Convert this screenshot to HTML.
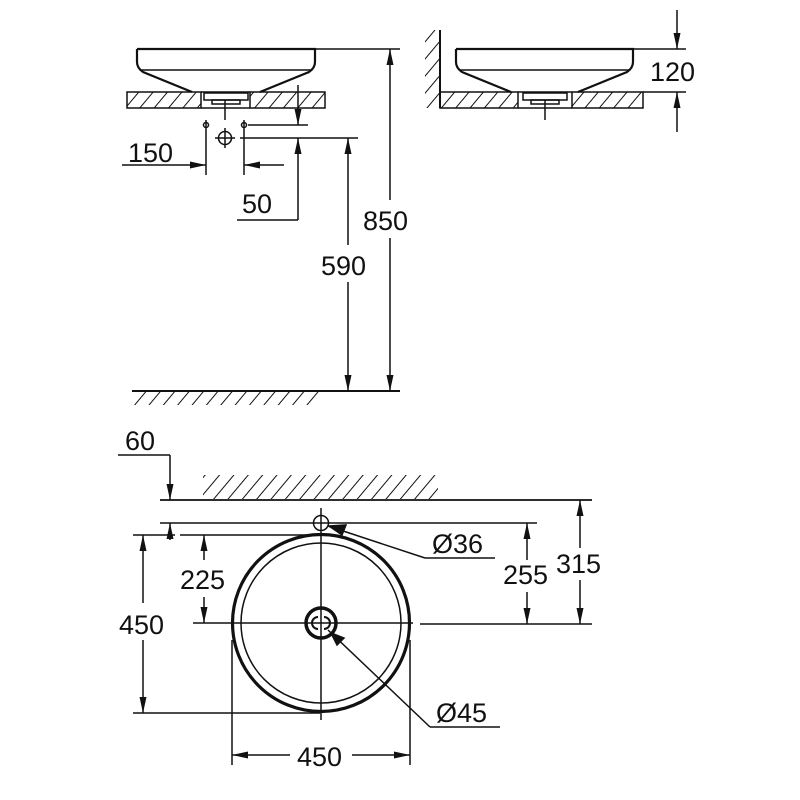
<!DOCTYPE html>
<html><head><style>body{margin:0;background:#fff}svg{display:block}text{font-family:"Liberation Sans",sans-serif;font-size:27px;fill:#111}</style></head>
<body>
<svg width="800" height="800" viewBox="0 0 800 800" xmlns="http://www.w3.org/2000/svg">
<defs>
<pattern id="h" width="11" height="11" patternUnits="userSpaceOnUse" patternTransform="rotate(40)">
<line x1="0" y1="0" x2="0" y2="11" stroke="#111" stroke-width="2"/></pattern>
<marker id="a" viewBox="0 0 16 7" refX="16" refY="3.5" markerWidth="16" markerHeight="7" markerUnits="userSpaceOnUse" orient="auto-start-reverse"><path d="M0,0L16,3.5L0,7z" fill="#111"/></marker>
</defs>
<g stroke="#111" fill="none" stroke-width="1.5">
<!-- top-left elevation -->
<path d="M137,49 H315 V62 Q315,68 309,72 L260,92 M137,49 V62 Q137,68 143,72 L192,92" stroke-width="2.2"/>
<line x1="140" y1="70" x2="312" y2="70"/>
<rect x="127" y="92" width="74" height="16" fill="url(#h)"/>
<rect x="250" y="92" width="75" height="16" fill="url(#h)"/>
<line x1="201" y1="92" x2="250" y2="92"/><line x1="201" y1="108" x2="250" y2="108"/>
<rect x="204" y="93" width="44" height="7"/><rect x="212" y="100" width="28" height="4"/>
<line x1="225" y1="100" x2="225" y2="120"/>
<circle cx="225" cy="138" r="6.5"/><line x1="225" y1="128" x2="225" y2="148"/><line x1="215" y1="138" x2="235" y2="138"/>
<circle cx="206" cy="125" r="2.5"/><circle cx="244" cy="125" r="2.5"/>
<line x1="206" y1="120" x2="206" y2="175"/><line x1="244" y1="120" x2="244" y2="175"/>
<line x1="122" y1="165" x2="206" y2="165" marker-end="url(#a)"/>
<line x1="284" y1="165" x2="244" y2="165" marker-end="url(#a)"/>
<line x1="248" y1="125" x2="308" y2="125"/>
<line x1="298" y1="85" x2="298" y2="125" marker-end="url(#a)"/>
<line x1="240" y1="138" x2="358" y2="138"/>
<line x1="237" y1="220" x2="298" y2="220"/>
<line x1="298" y1="220" x2="298" y2="138" marker-end="url(#a)"/>
<line x1="348" y1="245" x2="348" y2="138" marker-end="url(#a)"/>
<line x1="348" y1="282" x2="348" y2="391" marker-end="url(#a)"/>
<line x1="315" y1="49" x2="400" y2="49"/>
<line x1="390" y1="200" x2="390" y2="49" marker-end="url(#a)"/>
<line x1="390" y1="238" x2="390" y2="391" marker-end="url(#a)"/>
<line x1="132" y1="391" x2="400" y2="391" stroke-width="2"/>
<rect x="132" y="392" width="188" height="13" fill="url(#h)" stroke="none"/>
<!-- top-right elevation -->
<line x1="440" y1="30" x2="440" y2="108" stroke-width="2"/>
<rect x="425" y="30" width="14" height="78" fill="url(#h)" stroke="none"/>
<path d="M456,49 H633 V62 Q633,68 627,72 L578,92 M456,49 V62 Q456,68 462,72 L511,92" stroke-width="2.2"/>
<line x1="459" y1="70" x2="630" y2="70"/>
<rect x="440" y="92" width="78" height="16" fill="url(#h)"/>
<rect x="572" y="92" width="71" height="16" fill="url(#h)"/>
<line x1="518" y1="92" x2="572" y2="92"/><line x1="518" y1="108" x2="572" y2="108"/>
<rect x="523" y="93" width="44" height="7"/><rect x="531" y="100" width="28" height="4"/>
<line x1="545" y1="100" x2="545" y2="120"/>
<line x1="633" y1="49" x2="686" y2="49"/><line x1="643" y1="92" x2="686" y2="92"/>
<line x1="677" y1="10" x2="677" y2="49" marker-end="url(#a)"/>
<line x1="677" y1="132" x2="677" y2="92" marker-end="url(#a)"/>
<!-- plan -->
<rect x="203" y="475" width="235" height="24" fill="url(#h)" stroke="none"/>
<line x1="160" y1="500" x2="592" y2="500" stroke-width="1.8"/>
<line x1="160" y1="523" x2="537" y2="523"/>
<line x1="118" y1="455" x2="170" y2="455"/>
<line x1="170" y1="455" x2="170" y2="500" marker-end="url(#a)"/>
<line x1="170" y1="540" x2="170" y2="523" marker-end="url(#a)"/>
<line x1="133" y1="535" x2="175" y2="535"/><line x1="180" y1="535" x2="320" y2="535"/>
<circle cx="321" cy="623" r="88.5" stroke-width="3.2"/>
<circle cx="321" cy="623" r="80"/>
<circle cx="321" cy="623" r="15" stroke-width="3.5"/>
<path d="M318,617 A6,6 0 0 0 318,629 M324,617 A6,6 0 0 1 324,629" stroke-width="2"/>
<circle cx="321" cy="523" r="7.5"/>
<line x1="321" y1="508" x2="321" y2="720"/>
<line x1="193" y1="623" x2="413" y2="623"/><line x1="420" y1="624" x2="592" y2="624"/>
<line x1="328" y1="526" x2="425" y2="558"/><line x1="425" y1="558" x2="495" y2="558"/>
<polygon points="329,526 346,525 342,535" fill="#111"/>
<line x1="328" y1="630" x2="430" y2="727"/><line x1="430" y1="727" x2="500" y2="727"/>
<polygon points="331,633 344,638 337,645" fill="#111"/>
<line x1="527" y1="560" x2="527" y2="523" marker-end="url(#a)"/>
<line x1="527" y1="592" x2="527" y2="624" marker-end="url(#a)"/>
<line x1="580" y1="548" x2="580" y2="500" marker-end="url(#a)"/>
<line x1="580" y1="580" x2="580" y2="624" marker-end="url(#a)"/>
<line x1="204" y1="560" x2="204" y2="535" marker-end="url(#a)"/>
<line x1="204" y1="597" x2="204" y2="623" marker-end="url(#a)"/>
<line x1="143" y1="603" x2="143" y2="535" marker-end="url(#a)"/>
<line x1="143" y1="640" x2="143" y2="713" marker-end="url(#a)"/>
<line x1="133" y1="713" x2="320" y2="713"/>
<line x1="232" y1="640" x2="232" y2="765"/><line x1="410" y1="640" x2="410" y2="765"/>
<line x1="290" y1="755" x2="232" y2="755" marker-end="url(#a)"/>
<line x1="352" y1="755" x2="410" y2="755" marker-end="url(#a)"/>
</g>
<text x="128" y="162">150</text>
<text x="242" y="213">50</text>
<text x="321" y="275">590</text>
<text x="363" y="230">850</text>
<text x="650" y="81">120</text>
<text x="125" y="450">60</text>
<text x="180" y="589">225</text>
<text x="119" y="634">450</text>
<text x="432" y="553">Ø36</text>
<text x="503" y="584">255</text>
<text x="556" y="573">315</text>
<text x="436" y="722">Ø45</text>
<text x="297" y="766">450</text>
</svg>
</body></html>
